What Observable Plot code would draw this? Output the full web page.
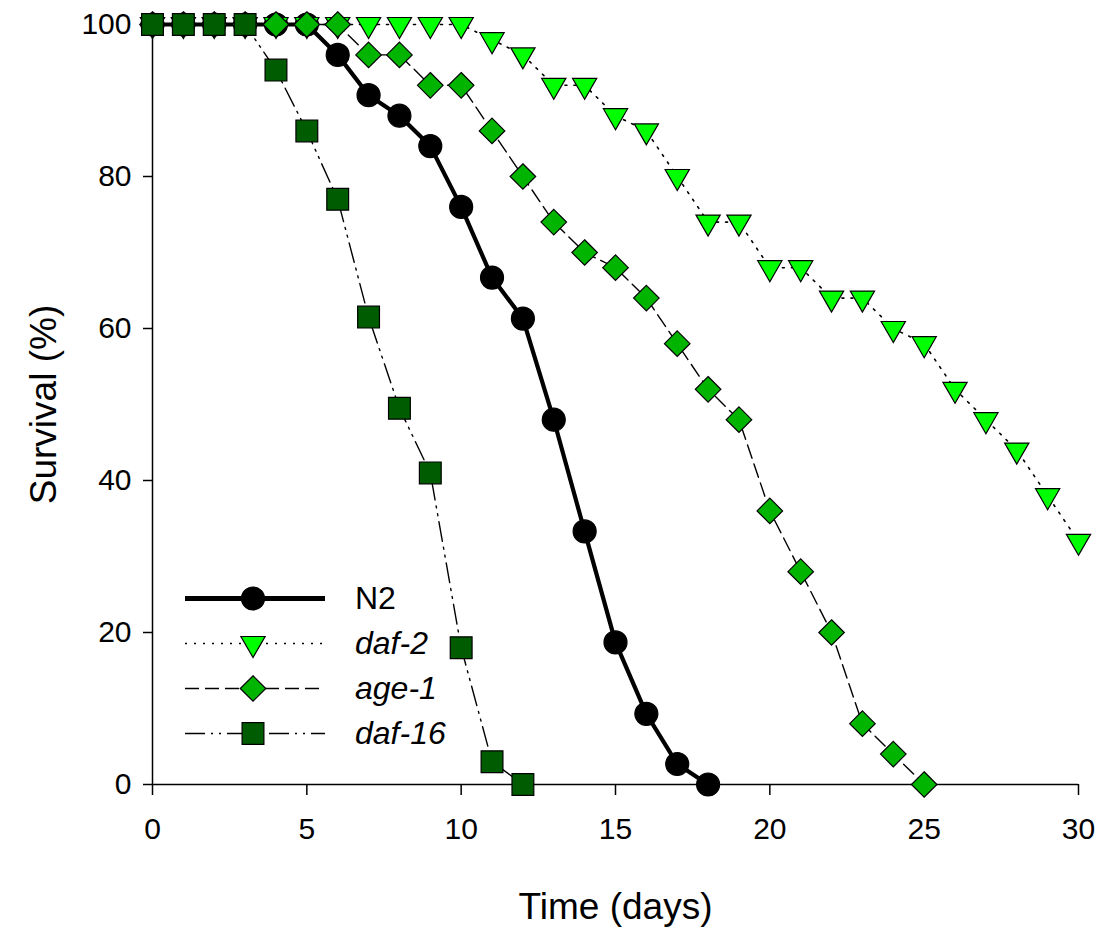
<!DOCTYPE html>
<html>
<head>
<meta charset="utf-8">
<script src="https://cdn.jsdelivr.net/npm/d3@7"></script>
<script src="https://cdn.jsdelivr.net/npm/@observablehq/plot@0.6"></script>
<style>
  body { margin: 0; background: #fff; }
  #wrap { position: relative; width: 1107px; height: 927px; font-family: "Liberation Sans", Arial, Helvetica, sans-serif; }
  #chart svg [aria-label="x-axis label"] text,
  #chart svg [aria-label="y-axis label"] text { font-size: 37px; }
  #legend { position: absolute; left: 185px; top: 576px; }
  .row { display: flex; align-items: center; height: 45px; }
  .row span { font-size: 32px; font-style: italic; color: #000; margin-left: 25px; }
  .row span.plain { font-style: normal; }
</style>
</head>
<body>
<div id="wrap">
  <div id="chart"></div>
  <div id="legend"></div>
</div>
<script>
// ---- data (survival %) ----
const strains = ["N2", "daf-2", "age-1", "daf-16"];
const n2Survival   = [100,100,100,100,100,100,96,90.7,88,84,76,66.7,61.3,48,33.3,18.7,9.3,2.7,0];
const daf2Survival = [100,100,100,100,100,100,100,100,100,100,100,98,96,92,92,88,86,80,74,74,68,68,64,64,60,58,52,48,44,38,32];
const age1Survival = [100,100,100,100,100,100,100,96,96,92,92,86,80,74,70,68,64,58,52,48,36,28,20,8,4,0];
const daf16Survival = [100,100,100,100,94,86,77,61.5,49.5,41,18,3,0];
const xTicks = [0, 5, 10, 15, 20, 25, 30];
const yTicks = [0, 20, 40, 60, 80, 100];

// ---- styles per series ----
const styles = {
  "N2":     {fill: "#000000", symbol: "circle",   r: 11.5, rotate: 0,   stroke: "#000", width: 4.2, dash: null},
  "daf-2":  {fill: "#00ff00", symbol: "triangle", r: 9,    rotate: 180, stroke: "#000", width: 1.6, dash: "2,7"},
  "age-1":  {fill: "#00b400", symbol: "diamond2", r: 11.5, rotate: 0,   stroke: "#000", width: 1.4, dash: "14,6"},
  "daf-16": {fill: "#005c00", symbol: "square",   r: 12.3, rotate: 0,   stroke: "#000", width: 1.4, dash: "20,6,2,6,2,6"}
};

const series = {"N2": n2Survival, "daf-2": daf2Survival, "age-1": age1Survival, "daf-16": daf16Survival};
const tableFor = name => series[name].map((v, i) => ({strain: name, day: i, survival: v}));

const marks = [];
for (const name of strains) {
  const s = styles[name];
  const data = tableFor(name);
  marks.push(Plot.line(data, {x: "day", y: "survival", stroke: s.stroke, strokeWidth: s.width, strokeDasharray: s.dash}));
  marks.push(Plot.dot(data, {x: "day", y: "survival", symbol: () => s.symbol, r: s.r, rotate: s.rotate,
    fill: s.fill, stroke: "#000", strokeWidth: 1.2}));
}

const chart = Plot.plot({
  width: 1107,
  height: 927,
  marginLeft: 152,
  marginRight: 29,
  marginTop: 24,
  marginBottom: 143,
  style: {fontFamily: '"Liberation Sans", Arial, Helvetica, sans-serif', fontSize: "30px", color: "#000", background: "#fff"},
  x: {domain: [0, 30]},
  y: {domain: [0, 100]},
  symbol: {type: "identity"},
  marks: [
    Plot.ruleY([0], {stroke: "#000", strokeWidth: 1.5}),
    Plot.ruleX([0], {stroke: "#000", strokeWidth: 1.5}),
    Plot.axisX({ticks: xTicks, tickSize: 11, tickPadding: 22, strokeWidth: 1.5, label: "Time (days)", labelAnchor: "center", labelArrow: "none", labelOffset: 134}),
    Plot.axisY({ticks: yTicks, tickSize: 9, tickPadding: 12, strokeWidth: 1.5, label: "Survival (%)", labelAnchor: "center", labelArrow: "none", labelOffset: 123}),
    ...marks
  ]
});
document.getElementById("chart").appendChild(chart);

// ---- legend (inside plot area, lower-left) ----
const legend = d3.select("#legend");
for (const name of strains) {
  const s = styles[name];
  const row = legend.append("div").attr("class", "row");
  const sw = row.append("svg").attr("width", 145).attr("height", 45);
  sw.append("line").attr("x1", 0).attr("x2", 140).attr("y1", 22.5).attr("y2", 22.5)
    .attr("stroke", "#000").attr("stroke-width", name === "N2" ? 5 : s.width)
    .attr("stroke-dasharray", s.dash);
  const sym = {circle: d3.symbolCircle, triangle: d3.symbolTriangle, diamond2: d3.symbolDiamond2, square: d3.symbolSquare}[s.symbol];
  sw.append("path").attr("d", d3.symbol(sym, Math.PI * s.r * s.r)())
    .attr("transform", `translate(68,22.5) rotate(${s.rotate})`)
    .attr("fill", s.fill).attr("stroke", "#000").attr("stroke-width", 1.2);
  row.append("span").attr("class", name === "N2" ? "plain" : null).text(name);
}
</script>
</body>
</html>
